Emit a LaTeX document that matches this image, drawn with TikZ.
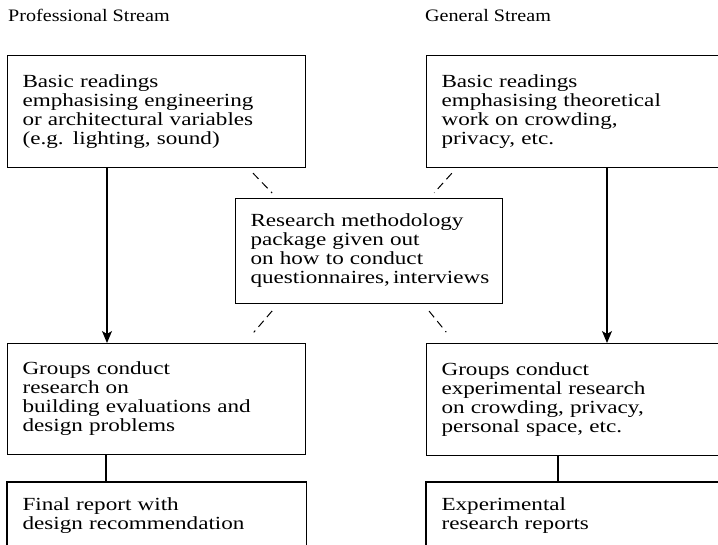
\documentclass[tikz,border=0pt]{standalone}
\usepackage{fontspec}
\setmainfont{Liberation Serif}[FakeStretch=1.25]
\newfontfamily\headfont{Liberation Serif}[FakeStretch=1.15]
\usepackage{tikz}
\usetikzlibrary{arrows.meta,positioning}

\begin{document}
\begin{tikzpicture}[x=1pt,y=-1pt,
    box/.style={draw, line width=1.1pt, anchor=north west, align=left,
                inner xsep=15pt, inner ysep=0pt,
                font=\fontsize{18.5}{19}\selectfont},
    openbox/.style={box, draw=none},
    head/.style={anchor=base west, inner sep=0pt,
                 font=\headfont\fontsize{17.5}{19}\selectfont},
    link/.style={line width=1.1pt},
    dashlink/.style={line width=1pt, dash pattern=on 8pt off 5pt}]

    \clip (0,0) rectangle (718,545);

    % stream headings
    \node[head] (prohead) at (8,22)   {Professional Stream};
    \node[head] (genhead) at (425,22) {General Stream};

    % basic readings
    \node[box, text width=268pt, minimum height=112pt] (proread) at (7,55)
        {Basic readings\\ emphasising engineering\\
         or architectural variables\\ (e.g. lighting, sound)};
    \node[box, text width=290pt, minimum height=112pt] (genread) at (426,55)
        {Basic readings\\ emphasising theoretical\\
         work on crowding,\\ privacy, etc.};

    % methodology package in the middle
    \node[box, text width=237pt, minimum height=105pt] (method) at (235,198)
        {Research methodology\\ package given out\\
         on how to conduct\\ questionnaires,\,interviews};

    % group research
    \node[box, text width=268pt, minimum height=111pt] (proresearch) at (7,343)
        {Groups conduct\\ research on\\
         building evaluations and\\ design problems};
    \node[box, text width=290pt, minimum height=112pt] (genresearch) at (426,343)
        {Groups conduct\\ experimental research\\
         on crowding, privacy,\\ personal space, etc.};

    % reports (open at the bottom)
    \node[openbox, text width=268pt, minimum height=66pt] (proreport) at (7,482)
        {Final report with\\ design recommendation};
    \node[openbox, text width=290pt, minimum height=66pt] (genreport) at (426,482)
        {Experimental\\ research reports};
    \draw[link] (proreport.south west) |- (proreport.north east)
        -- (proreport.south east);
    \draw[link] (genreport.south west) |- (genreport.north east)
        -- (genreport.south east);

    % solid links
    \draw[link, -{Stealth[length=12pt, width=10pt, inset=3pt]}]
        ([xshift=100pt]proread.south west) -- ([xshift=100pt]proresearch.north west);
    \draw[link, -{Stealth[length=12pt, width=10pt, inset=3pt]}]
        ([xshift=181pt]genread.south west) -- ([xshift=181pt]genresearch.north west);
    \draw[link] ([xshift=99pt]proresearch.south west) -- ([xshift=99pt]proreport.north west);
    \draw[link] ([xshift=132pt]genresearch.south west) -- ([xshift=132pt]genreport.north west);

    % dashed links through the package
    \draw[dashlink, shorten <=7pt, shorten >=7pt]
        ([xshift=-58pt]proread.south east) -- ([xshift=42pt]method.north west);
    \draw[dashlink, shorten <=7pt, shorten >=7pt]
        ([xshift=30.5pt]genread.south west) -- ([xshift=-73.6pt]method.north east);
    \draw[dashlink, shorten <=9pt, shorten >=14pt]
        ([xshift=43pt]method.south west) -- ([xshift=-61.5pt]proresearch.north east);
    \draw[dashlink, shorten <=9pt, shorten >=14pt]
        ([xshift=-79.7pt]method.south east) -- ([xshift=29pt]genresearch.north west);
\end{tikzpicture}
\end{document}
